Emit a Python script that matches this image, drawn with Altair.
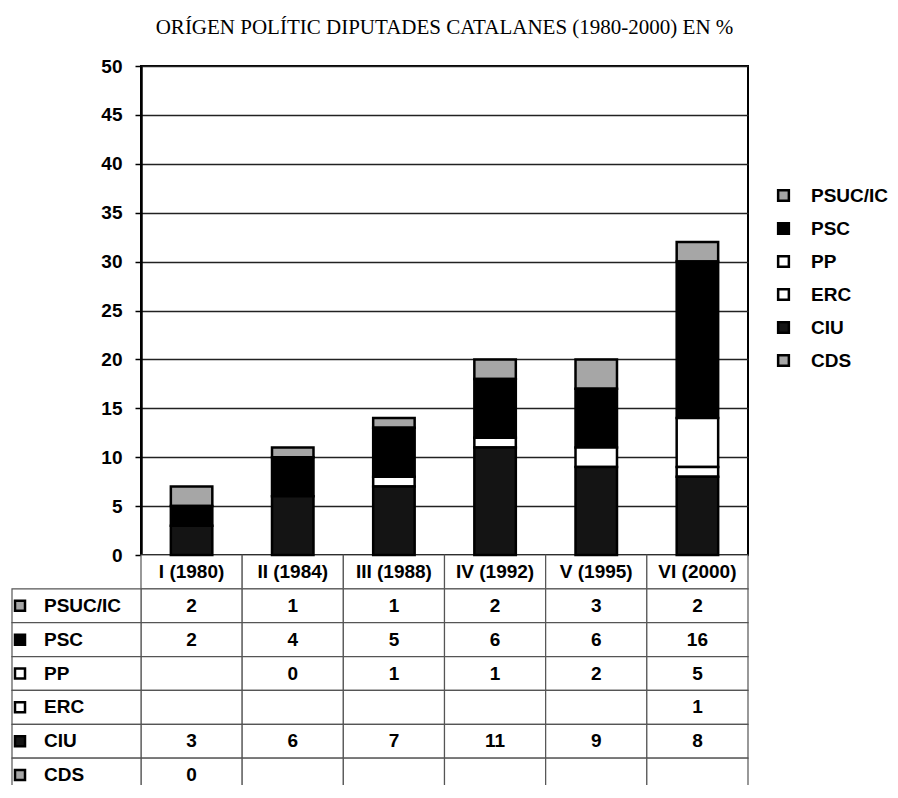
import altair as alt
import pandas as pd

categories = ["I (1980)", "II (1984)", "III (1988)", "IV (1992)", "V (1995)", "VI (2000)"]
parties = ["PSUC/IC", "PSC", "PP", "ERC", "CIU", "CDS"]
psuc_ic = [2, 1, 1, 2, 3, 2]
psc = [2, 4, 5, 6, 6, 16]
pp = [None, 0, 1, 1, 2, 5]
erc = [None, None, None, None, None, 1]
ciu = [3, 6, 7, 11, 9, 8]
cds = [0, None, None, None, None, None]
party_colors = ["#a6a6a6", "#000000", "#ffffff", "#ffffff", "#141414", "#a6a6a6"]
stack_order = ["CDS", "CIU", "ERC", "PP", "PSC", "PSUC/IC"]  # bottom to top
y_ticks = [0, 5, 10, 15, 20, 25, 30, 35, 40, 45, 50]
title_text = "ORÍGEN POLÍTIC DIPUTADES CATALANES (1980-2000) EN %"

series = dict(zip(parties, [psuc_ic, psc, pp, erc, ciu, cds]))
records = []
for p in parties:
    for c, v in zip(categories, series[p]):
        if v is not None:
            records.append({"category": c, "party": p, "value": v, "label": str(v),
                            "stack": stack_order.index(p), "row": p})
df = pd.DataFrame(records)
header_df = pd.DataFrame({"category": categories, "row": ["header"] * len(categories)})
cells_df = pd.DataFrame([{"category": c, "row": r} for r in ["header"] + parties for c in categories])
label_df = pd.DataFrame({"party": parties, "row": parties})

FONT = "Liberation Sans"
x_scale = alt.Scale(domain=categories, paddingInner=0, paddingOuter=0)
row_scale = alt.Scale(domain=["header"] + parties, range=[489, 726], paddingInner=0, paddingOuter=0)
color_scale = alt.Scale(domain=parties, range=party_colors)
legend = alt.Legend(title=None, orient="none", legendX=633, legendY=120, symbolType="square",
                    symbolSize=115, symbolStrokeColor="black", symbolStrokeWidth=2.5,
                    labelFont=FONT, labelFontSize=19, labelFontWeight="bold", labelColor="black",
                    labelOffset=18, rowPadding=12)

X = alt.X("category:N", scale=x_scale, axis=None)
ROW = alt.Y("row:N", scale=row_scale, axis=None)

bars = alt.Chart(df).transform_filter("datum.value > 0").mark_bar(
    width={"band": 0.41}, stroke="black", strokeWidth=2.5
).encode(
    x=X,
    y=alt.Y("value:Q", stack="zero", scale=alt.Scale(domain=[0, 50], nice=False),
            axis=alt.Axis(values=y_ticks, grid=True, gridColor="#222", gridWidth=1.5,
                          domainColor="black", domainWidth=2.5, tickColor="black",
                          tickWidth=1.5, tickSize=6, labelFont=FONT, labelFontSize=19,
                          labelFontWeight="bold", labelColor="black", labelPadding=13,
                          title=None)),
    color=alt.Color("party:N", scale=color_scale, legend=legend),
    order=alt.Order("stack:Q", sort="ascending"),
)

cells = alt.Chart(cells_df).mark_rect(fill="white", stroke="#555", strokeWidth=1.2).encode(x=X, y=ROW)

label_cells = alt.Chart(label_df).mark_rect(fill="white", stroke="#555", strokeWidth=1.2).encode(
    x=alt.value(-129), x2=alt.value(0), y=ROW)

header_text = alt.Chart(header_df).mark_text(font=FONT, fontSize=19, fontWeight="bold", color="black").encode(
    x=X, y=ROW, text="category:N")

value_text = alt.Chart(df).mark_text(font=FONT, fontSize=19, fontWeight="bold", color="black").encode(
    x=X, y=ROW, text="label:N")

label_text = alt.Chart(label_df).mark_text(font=FONT, fontSize=19, fontWeight="bold", color="black",
                                           align="left").encode(
    x=alt.value(-97), y=ROW, text="party:N")

icons = alt.Chart(label_df).mark_square(size=100, filled=True, stroke="black", strokeWidth=2.5, opacity=1).encode(
    x=alt.value(-121), y=ROW, color=alt.Color("party:N", scale=color_scale, legend=legend))

chart = alt.layer(cells, label_cells, bars, header_text, value_text, label_text, icons).resolve_scale(
    y="independent"
).properties(
    width=607, height=489,
    autosize=alt.AutoSizeParams(type="none"),
    padding={"left": 133, "top": 58, "right": 142, "bottom": 230},
    title=alt.TitleParams(text=title_text, font="Liberation Serif", fontSize=21, fontWeight="normal",
                          color="black", frame="group", anchor="middle", offset=19),
).configure_view(stroke="black", strokeWidth=2)

chart.save("out.html", embed_options={"renderer": "svg", "actions": False})
